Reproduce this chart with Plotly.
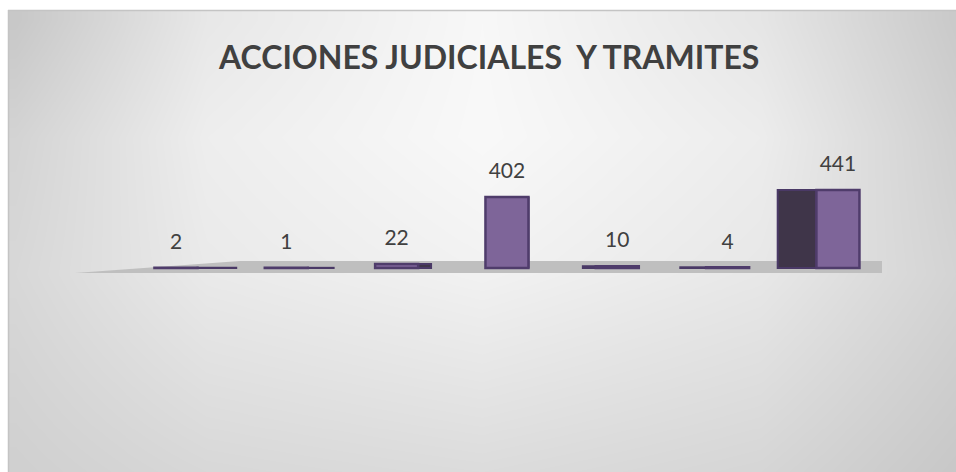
import base64, struct, zlib
import numpy as np
import plotly.graph_objects as go

# ---- data ----
categories = ["A", "B", "C", "D", "E", "F", "G"]
values = [2, 1, 22, 402, 10, 4, 441]
title_text = "ACCIONES JUDICIALES\u00a0\u00a0Y TRAMITES"

# ---- canvas ----
W, H = 956, 472
FRAME_X, FRAME_Y = 8, 10

# ---- background gradient as PNG (decoration) ----
gx = np.array([8, 200, 478, 760, 956], float)
gy = np.array([10, 130, 270, 472], float)
gv = np.array([
    [200, 232, 248, 230, 202],
    [212, 238, 249, 237, 208],
    [216, 234, 242, 232, 212],
    [208, 216, 220, 214, 200],
], float)
px = np.arange(W) + 0.5
py = np.arange(H) + 0.5
tmp = np.array([np.interp(px, gx, row) for row in gv])
img = np.array([np.interp(py, gy, tmp[:, j]) for j in range(W)]).T
img = np.clip(img, 0, 255).astype(np.uint8)
raw = b"".join(b"\x00" + img[r].tobytes() for r in range(H))


def chunk(tag, data):
    c = struct.pack(">I", len(data)) + tag + data
    return c + struct.pack(">I", zlib.crc32(tag + data) & 0xFFFFFFFF)


png = b"\x89PNG\r\n\x1a\n" + chunk(b"IHDR", struct.pack(">IIBBBBB", W, H, 8, 0, 0, 0, 0)) \
    + chunk(b"IDAT", zlib.compress(raw, 9)) + chunk(b"IEND", b"")
bg_uri = "data:image/png;base64," + base64.b64encode(png).decode()

# ---- axes geometry ----
x_range = [-1.595, 7.07]
baseline_px = 268
px_per_unit = 0.1766
y_span = H / px_per_unit
y1 = baseline_px / H * y_span
y_range = [y1 - y_span, y1]
units_per_px = y_span / H

xs = list(range(len(values)))
front_w = 0.39
vp = 3
k = 0.117
side_w, side_off = [], []
for i in xs:
    s = abs(i - vp) * k
    s = max(s, 1e-6)
    side_w.append(s)
    side_off.append(-front_w / 2 - s if i > vp else front_w / 2)

fig = go.Figure()
fig.add_trace(go.Bar(
    x=xs, y=values, width=side_w, offset=side_off,
    marker=dict(color="#3f3549", line=dict(color="#4a3966", width=2)),
    hoverinfo="skip", showlegend=False,
))
fig.add_trace(go.Bar(
    x=xs, y=values, width=front_w,
    marker=dict(color="#7e6599", line=dict(color="#4f3c6b", width=2.5)),
    hovertext=categories, showlegend=False,
))
label_gap_px = 24
fig.add_trace(go.Scatter(
    x=xs, y=[v + label_gap_px * units_per_px for v in values],
    mode="text", text=[str(v) for v in values], textposition="middle center",
    textfont=dict(family="Lato, Calibri, sans-serif", size=21, color="#404040"),
    hoverinfo="skip", showlegend=False,
))


def P(x, y):
    return f"{x / W:.5f},{1 - y / H:.5f}"


floor_path = "M " + " L ".join([P(75, 273), P(240, 261), P(882, 261), P(882, 273)]) + " Z"

fig.update_layout(
    width=W, height=H,
    margin=dict(l=0, r=0, t=0, b=0),
    paper_bgcolor="white",
    plot_bgcolor="rgba(0,0,0,0)",
    barmode="overlay",
    xaxis=dict(range=x_range, visible=False, fixedrange=True),
    yaxis=dict(range=y_range, visible=False, fixedrange=True),
    images=[dict(source=bg_uri, xref="paper", yref="paper",
                 x=FRAME_X / W, y=1 - FRAME_Y / H,
                 sizex=(W - FRAME_X) / W, sizey=(H - FRAME_Y) / H,
                 sizing="stretch", layer="below", xanchor="left", yanchor="top")],
    shapes=[
        dict(type="path", path=floor_path, xref="paper", yref="paper",
             fillcolor="#bfbfbf", line=dict(width=0), layer="below"),
        dict(type="line", xref="paper", yref="paper",
             x0=(FRAME_X + 0.5) / W, x1=(FRAME_X + 0.5) / W, y0=0, y1=1 - FRAME_Y / H,
             line=dict(color="#c4c4c4", width=1.5), layer="above"),
        dict(type="line", xref="paper", yref="paper",
             x0=FRAME_X / W, x1=1, y0=1 - (FRAME_Y + 0.5) / H, y1=1 - (FRAME_Y + 0.5) / H,
             line=dict(color="#c4c4c4", width=1.5), layer="above"),
    ],
    annotations=[dict(
        text=f"<b>{title_text}</b>", xref="paper", yref="paper",
        x=488 / W, y=1 - 56 / H, xanchor="center", yanchor="middle", showarrow=False,
        font=dict(family="Lato, Calibri, sans-serif", size=32, color="#404040"),
    )],
)

fig.write_html("out.html", config={"displayModeBar": False, "staticPlot": True})
with open("out.html", encoding="utf-8") as f:
    html = f.read()
html = html.replace("<head>", "<head><style>html,body{margin:0;padding:0;overflow:hidden;}</style>", 1)
with open("out.html", "w", encoding="utf-8") as f:
    f.write(html)
